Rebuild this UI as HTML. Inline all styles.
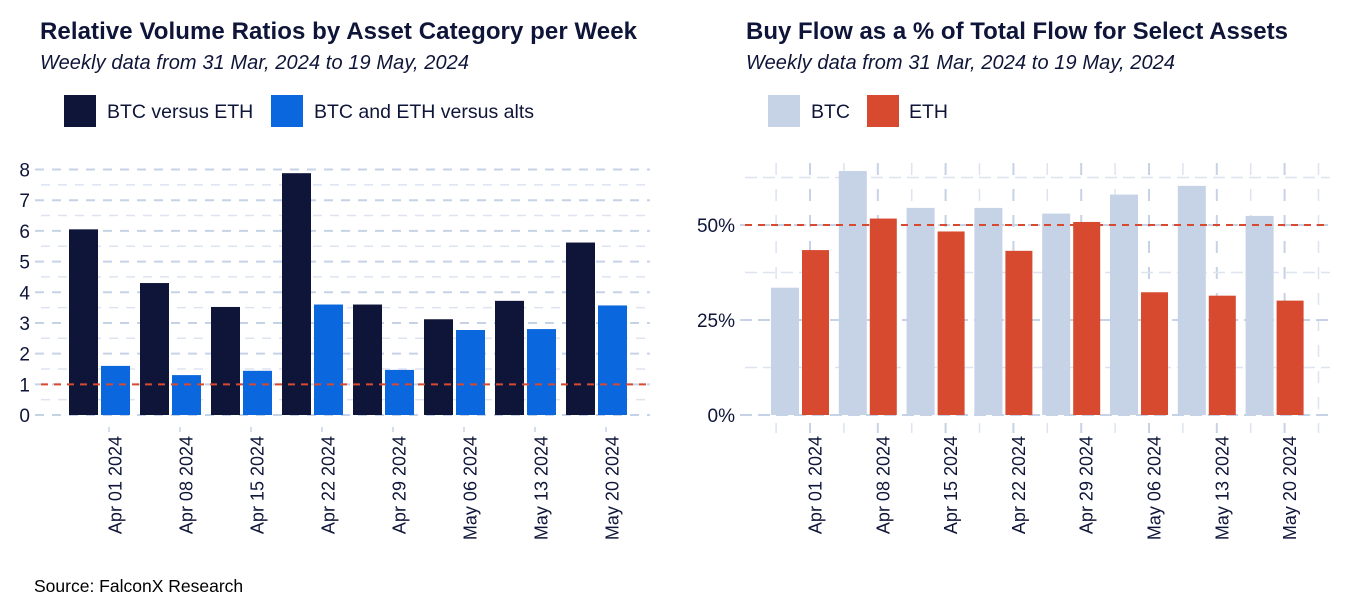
<!DOCTYPE html>
<html><head><meta charset="utf-8"><style>
body{margin:0;background:#fff;}
svg{display:block;font-family:"Liberation Sans",Arial,sans-serif;}
</style></head><body>
<svg id="s" width="1350" height="600" viewBox="0 0 1350 600">
<text x="40" y="39" font-size="24" font-weight="bold" fill="#0e1538" textLength="597">Relative Volume Ratios by Asset Category per Week</text>
<text x="40" y="69" font-size="20" font-style="italic" fill="#0e1538" textLength="429">Weekly data from 31 Mar, 2024 to 19 May, 2024</text>
<rect x="64" y="95" width="32" height="32" fill="#0e1538"/>
<text x="107" y="118" font-size="19.5" fill="#0e1538">BTC versus ETH</text>
<rect x="271" y="95" width="32" height="32" fill="#0b67dd"/>
<text x="314" y="118" font-size="19.5" fill="#0e1538">BTC and ETH versus alts</text>

<text x="746" y="39" font-size="24" font-weight="bold" fill="#0e1538" textLength="542">Buy Flow as a % of Total Flow for Select Assets</text>
<text x="746" y="69" font-size="20" font-style="italic" fill="#0e1538" textLength="429">Weekly data from 31 Mar, 2024 to 19 May, 2024</text>
<rect x="768" y="95" width="32" height="32" fill="#c6d3e6"/>
<text x="811" y="118" font-size="19.5" fill="#0e1538">BTC</text>
<rect x="867" y="95" width="32" height="32" fill="#d74a30"/>
<text x="909" y="118" font-size="19.5" fill="#0e1538">ETH</text>

<text x="34" y="592" font-size="17.5" fill="#000">Source: FalconX Research</text>
<g id="L"></g><g id="R"></g>
</svg>
<script>
const categories=["Apr 01 2024","Apr 08 2024","Apr 15 2024","Apr 22 2024","Apr 29 2024","May 06 2024","May 13 2024","May 20 2024"];
const btcVsEth=[6.05,4.3,3.52,7.88,3.6,3.12,3.72,5.62];
const btcEthVsAlts=[1.6,1.3,1.44,3.6,1.47,2.77,2.8,3.57];
const leftTicks=[0,1,2,3,4,5,6,7,8];
const btcBuy=[33.5,64.2,54.5,54.5,53,58,60.3,52.4];
const ethBuy=[43.4,51.7,48.3,43.2,50.8,32.3,31.4,30.1];
const rightTicks=[0,25,50];
const NS="http://www.w3.org/2000/svg";
function mk(p,tag,a){const e=document.createElementNS(NS,tag);for(const k in a)e.setAttribute(k,a[k]);p.appendChild(e);return e;}
// left
const L=document.getElementById('L');
const ly=v=>415-v*(415-169.5)/8;
const lx=i=>99.5+i*71;
for(let v=0;v<=8;v+=0.5){const maj=v%1===0;
 const g=mk(L,'line',{x1:maj?35:41,x2:650,y1:ly(v),y2:ly(v),stroke:maj?'#c6d3e6':'#dde4f0','stroke-width':maj?2:1.5,'stroke-dasharray':'9 8'});
 }
leftTicks.forEach(v=>{const t=mk(L,'text',{x:30,y:ly(v)+7,'font-size':19,fill:'#0e1538','text-anchor':'end'});t.textContent=v;
 });
categories.forEach((c,i)=>{
 const b1=mk(L,'rect',{x:lx(i)-30.5,y:ly(btcVsEth[i]),width:29,height:ly(0)-ly(btcVsEth[i]),fill:'#0e1538'});
 
 const b2=mk(L,'rect',{x:lx(i)+1.5,y:ly(btcEthVsAlts[i]),width:29,height:ly(0)-ly(btcEthVsAlts[i]),fill:'#0b67dd'});
 
 const tk=mk(L,'line',{x1:lx(i)+9.5,x2:lx(i)+9.5,y1:427,y2:432,stroke:'#c6d3e6','stroke-width':1.5});
 
 const t=mk(L,'text',{x:0,y:0,'font-size':18,fill:'#0e1538','text-anchor':'end',transform:`translate(${lx(i)+22},436) rotate(-90)`});t.textContent=c;
 
});
const r1=mk(L,'line',{x1:41,x2:650,y1:ly(1),y2:ly(1),stroke:'#d74a30','stroke-width':2,'stroke-dasharray':'7 6'});

// right
const R=document.getElementById('R');
const ry=v=>415-v*(415-225)/50;
const rx=i=>800.5+i*67.8;
for(let i=-0.5;i<=7.5;i+=0.5){const maj=i%1===0;const x=810+i*67.8;
 const g=mk(R,'line',{x1:x,x2:x,y1:163,y2:433,stroke:maj?'#c6d3e6':'#dde4f0','stroke-width':maj?2:1.5,'stroke-dasharray':'12 14'});
 }
for(let v=0;v<=62.5;v+=12.5){const maj=v%25===0;
 const g=mk(R,'line',{x1:maj?740:745,x2:1330,y1:ry(v),y2:ry(v),stroke:maj?'#c6d3e6':'#dde4f0','stroke-width':maj?2:1.5,'stroke-dasharray':'12 6'});
 }
rightTicks.forEach(v=>{const t=mk(R,'text',{x:735,y:ry(v)+7,'font-size':19,fill:'#0e1538','text-anchor':'end'});t.textContent=v+'%';
 });
categories.forEach((c,i)=>{
 const b1=mk(R,'rect',{x:rx(i)-29.5,y:ry(btcBuy[i]),width:28,height:ry(0)-ry(btcBuy[i]),fill:'#c6d3e6'});
 
 const b2=mk(R,'rect',{x:rx(i)+1.5,y:ry(ethBuy[i]),width:27,height:ry(0)-ry(ethBuy[i]),fill:'#d74a30'});
 
 const t=mk(R,'text',{x:0,y:0,'font-size':18,fill:'#0e1538','text-anchor':'end',transform:`translate(${rx(i)+21},436) rotate(-90)`});t.textContent=c;
 
});
const r2=mk(R,'line',{x1:745,x2:1330,y1:ry(50),y2:ry(50),stroke:'#d74a30','stroke-width':2,'stroke-dasharray':'7 6'});

</script>
</body></html>
